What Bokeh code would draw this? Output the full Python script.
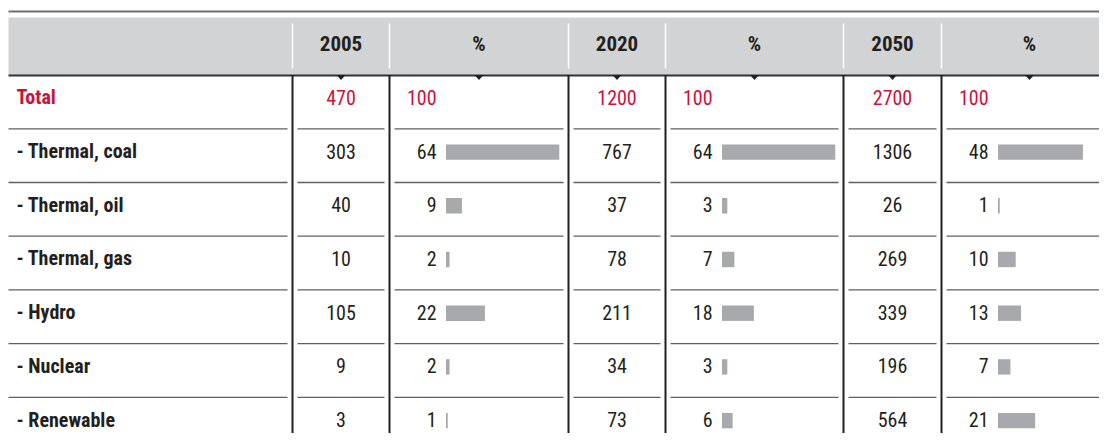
from bokeh.plotting import figure
from bokeh.models import Range1d
from bokeh.core.properties import value
from bokeh.embed import file_html
from bokeh.resources import INLINE

# ---------------- data ----------------
categories = ["Total", "- Thermal, coal", "- Thermal, oil", "- Thermal, gas",
              "- Hydro", "- Nuclear", "- Renewable"]
headers = ["2005", "%", "2020", "%", "2050", "%"]
v2005 = [470, 303, 40, 10, 105, 9, 3]
p2005 = [100, 64, 9, 2, 22, 2, 1]
v2020 = [1200, 767, 37, 78, 211, 34, 73]
p2020 = [100, 64, 3, 7, 18, 3, 6]
v2050 = [2700, 1306, 26, 269, 339, 196, 564]
p2050 = [100, 48, 1, 10, 13, 7, 21]

# ---------------- layout ----------------
W, H = 1099, 433
col_edges = [8, 292, 389, 568, 665, 843, 941, 1117]
header_top, header_bot = 17, 74.6
row_h = 53.7
FONT = "Roboto Condensed"
RED = "#D0103A"
DARK = "#231F20"
BAR = "#A7A9AC"
px_per_pct = 1.77

p = figure(width=W, height=H, output_backend="svg", toolbar_location=None,
           x_range=Range1d(0, W), y_range=Range1d(H, 0),
           min_border=0, x_axis_location=None, y_axis_location=None)
p.grid.visible = False
p.outline_line_color = None
p.background_fill_color = "white"
p.border_fill_color = "white"

# top rule
p.segment(x0=[col_edges[0]], y0=[11], x1=[col_edges[-1]], y1=[11],
          line_color="#6D6E71", line_width=2)
# header background
p.quad(left=[col_edges[0]], right=[col_edges[-1]], top=[header_top], bottom=[header_bot],
       fill_color="#D1D3D4", line_color=None)
# white separators in header
inner = col_edges[1:-1]
p.segment(x0=inner, y0=[23] * len(inner), x1=inner, y1=[68] * len(inner),
          line_color="white", line_width=1.5)
# header bottom line
p.segment(x0=[col_edges[0]], y0=[header_bot + 0.5], x1=[col_edges[-1]], y1=[header_bot + 0.5],
          line_color="#333333", line_width=2)
# body vertical lines
p.segment(x0=inner, y0=[header_bot] * len(inner), x1=inner, y1=[H + 10] * len(inner),
          line_color=DARK, line_width=2)

# header texts
centers = [(col_edges[i + 1] + col_edges[i + 2]) / 2 for i in range(6)]
p.text(x=centers, y=[43] * 6, text=headers, text_font=value(FONT),
       text_font_style="bold", text_font_size="21px", text_color=DARK,
       text_align="center", text_baseline="alphabetic")

# small triangles under header
tx, ty = [], []
for c in centers:
    tx.append([c - 4.5, c + 4.5, c])
    ty.append([header_bot, header_bot, header_bot + 5])
p.patches(xs=tx, ys=ty, fill_color=DARK, line_color=None)

# row separators (segments per column with gaps)
n = len(categories)
sx0, sx1, sy = [], [], []
for r in range(1, n):
    y = header_bot + r * row_h
    for c in range(7):
        a = col_edges[c] + (0 if c == 0 else 5)
        b = col_edges[c + 1] - (0 if c == 6 else 5)
        sx0.append(a); sx1.append(b); sy.append(y)
p.segment(x0=sx0, y0=sy, x1=sx1, y1=sy, line_color="#5F6062", line_width=1.3)

# body
row_tops = [header_bot + r * row_h for r in range(n)]
baselines = [t + 22.2 for t in row_tops]
colors = [RED] + [DARK] * (n - 1)

# category labels
p.text(x=[16] * n, y=baselines, text=categories, text_font=value(FONT),
       text_font_style="bold", text_font_size="20px", text_color=colors,
       text_align="left", text_baseline="alphabetic")

values = [v2005, v2020, v2050]
pcts = [p2005, p2020, p2050]
for k in range(3):
    vc = centers[2 * k]
    p.text(x=[vc] * n, y=baselines, text=[str(v) for v in values[k]],
           text_font=value(FONT), text_font_size="20px", text_color=colors,
           text_align="center", text_baseline="alphabetic")
    pl = col_edges[2 * k + 2]
    p.text(x=[pl + 47] * n, y=baselines, text=[str(v) for v in pcts[k]],
           text_font=value(FONT), text_font_size="20px", text_color=colors,
           text_align="right", text_baseline="alphabetic")
    # bars (not for total row)
    left = [pl + 56.5] * (n - 1)
    right = [pl + 56.5 + v * px_per_pct for v in pcts[k][1:]]
    top = [t + 15.6 for t in row_tops[1:]]
    bot = [t + 31.0 for t in row_tops[1:]]
    p.quad(left=left, right=right, top=top, bottom=bot, fill_color=BAR, line_color=None)

open("out.html", "w").write(file_html(p, INLINE))
